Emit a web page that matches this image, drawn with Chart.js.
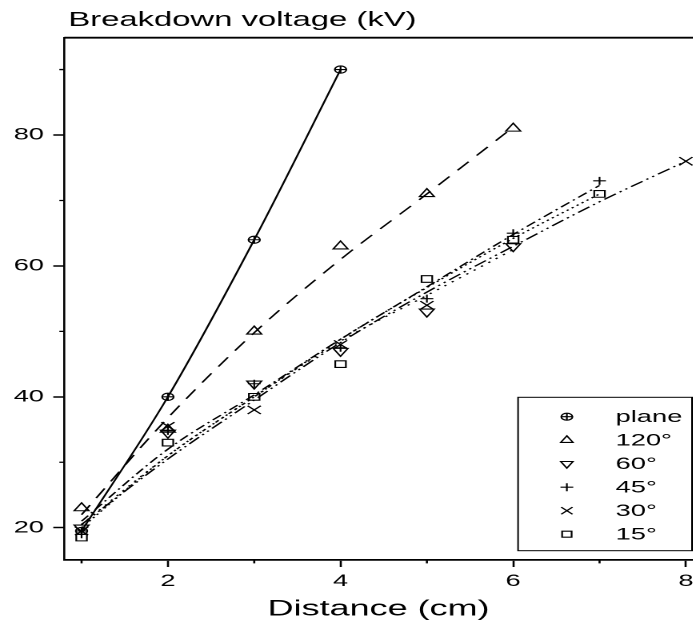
<!DOCTYPE html>
<html>
<head>
<meta charset="utf-8">
<script src="https://cdn.jsdelivr.net/npm/chart.js@4.4.1/dist/chart.umd.min.js"></script>
<style>
html,body{margin:0;padding:0;background:#fff;overflow:hidden}
#wrap{width:693px;height:626px;overflow:hidden;position:relative}
#c{transform:scaleX(1.6);transform-origin:0 0;display:block}
</style>
</head>
<body>
<div id="wrap"><canvas id="c" width="433" height="626"></canvas></div>
<script>
// ---------- data ----------
const seriesNames = ['plane', '120°', '60°', '45°', '30°', '15°'];

const xPlane = [1, 2, 3, 4];
const yPlane = [19.5, 40, 64, 90];
const x120 = [1, 2, 3, 4, 5, 6];
const y120 = [23, 35, 50, 63, 71, 81];
const x60 = [1, 2, 3, 4, 5, 6];
const y60 = [20, 34.5, 42, 47, 53, 63];
const x45 = [1, 2, 3, 4, 5, 6, 7];
const y45 = [19, 34.8, 42, 47.5, 55, 65, 73];
const x30 = [1, 2, 3, 4, 5, 8];
const y30 = [19.5, 35.5, 38, 48, 54, 76];
const x15 = [1, 2, 3, 4, 5, 6, 7];
const y15 = [18.5, 33, 40, 45, 58, 64, 71];

// fitted curves at integer distances
const fitX = [1, 2, 3, 4, 5, 6, 7, 8];
const fitPlane = [19.5, 40, 64, 90];
const fit120 = [22, 36.8, 49.8, 61, 71, 81.2];
const fit60 = [20.5, 31, 40, 48.5, 55.5, 62.5];
const fit45 = [21, 32, 40.3, 48.8, 56.8, 64.8, 72.3];
const fit30 = [20.5, 30.5, 39.5, 48.3, 56, 63, 69.8, 76];
const fit15 = [20, 31, 40, 48.8, 56.7, 64.2, 71];

const xTicks = [1, 2, 3, 4, 5, 6, 7, 8];
const xTickLabels = ['', '2', '', '4', '', '6', '', '8'];
const yTicks = [20, 30, 40, 50, 60, 70, 80, 90];
const yTickLabels = ['20', '', '40', '', '60', '', '80', ''];

const titleText = 'Breakdown voltage (kV)';
const xTitleText = 'Distance (cm)';

// ---------- helpers ----------
const FONT = "'Liberation Sans', Arial, Helvetica, sans-serif";
const pts = (xs, ys) => ys.map((v, i) => ({x: xs[i], y: v}));

function pointSet(label, xs, ys, style, r, rot) {
  return {
    label, data: pts(xs, ys), showLine: false,
    pointStyle: style, pointRadius: r, pointHoverRadius: r,
    pointRotation: rot || 0,
    borderColor: '#000', backgroundColor: 'rgba(0,0,0,0)',
    pointBorderWidth: 1.1, order: 1
  };
}
function lineSet(label, ys, dash) {
  return {
    label, data: pts(fitX, ys), showLine: true,
    pointRadius: 0, pointHoverRadius: 0,
    borderColor: '#000', borderWidth: 1.25, borderDash: dash,
    cubicInterpolationMode: 'monotone', fill: false, order: 2
  };
}

const datasets = [
  lineSet('fit plane', fitPlane, []),
  lineSet('fit 120', fit120, [11, 8]),
  lineSet('fit 60', fit60, [1.5, 4.5]),
  lineSet('fit 45', fit45, [7, 3, 1.5, 3]),
  lineSet('fit 30', fit30, [9, 3, 1.5, 3, 1.5, 3]),
  lineSet('fit 15', fit15, [1.5, 2.5]),
  pointSet(seriesNames[0], xPlane, yPlane, 'circle', 3.6),
  pointSet(seriesNames[0] + '+', xPlane, yPlane, 'cross', 3.6),
  pointSet(seriesNames[1], x120, y120, 'triangle', 5.3),
  pointSet(seriesNames[2], x60, y60, 'triangle', 5.3, 180),
  pointSet(seriesNames[3], x45, y45, 'cross', 4),
  pointSet(seriesNames[4], x30, y30, 'crossRot', 5.8),
  pointSet(seriesNames[5], x15, y15, 'rect', 4.7)
];

const legendMarkers = [
  {style: 'circlePlus', r: 3.5},
  {style: 'triangle', r: 4.4},
  {style: 'triangleDown', r: 4.4},
  {style: 'cross', r: 4},
  {style: 'crossRot', r: 5},
  {style: 'rect', r: 4.2}
];

function drawMarker(ctx, style, x, y, r) {
  ctx.beginPath();
  const s = Math.SQRT1_2 * r;
  if (style === 'circlePlus') {
    ctx.arc(x, y, r, 0, Math.PI * 2);
    ctx.moveTo(x - r, y); ctx.lineTo(x + r, y);
    ctx.moveTo(x, y - r); ctx.lineTo(x, y + r);
  } else if (style === 'triangle' || style === 'triangleDown') {
    const d = style === 'triangle' ? 1 : -1;
    ctx.moveTo(x, y - d * r);
    ctx.lineTo(x + r * Math.cos(Math.PI / 6), y + d * r / 2);
    ctx.lineTo(x - r * Math.cos(Math.PI / 6), y + d * r / 2);
    ctx.closePath();
  } else if (style === 'cross') {
    ctx.moveTo(x - r, y); ctx.lineTo(x + r, y);
    ctx.moveTo(x, y - r); ctx.lineTo(x, y + r);
  } else if (style === 'crossRot') {
    ctx.moveTo(x - s, y - s); ctx.lineTo(x + s, y + s);
    ctx.moveTo(x - s, y + s); ctx.lineTo(x + s, y - s);
  } else if (style === 'rect') {
    ctx.rect(x - s, y - s, 2 * s, 2 * s);
  }
  ctx.stroke();
}

const framePlugin = {
  id: 'frame',
  afterDraw(chart) {
    const ctx = chart.ctx, a = chart.chartArea;
    const xs = chart.scales.x, ys = chart.scales.y;
    ctx.save();
    ctx.strokeStyle = '#000';
    // top frame line
    ctx.lineWidth = 1.8;
    ctx.beginPath();
    ctx.moveTo(a.left, a.top); ctx.lineTo(a.right, a.top);
    ctx.stroke();
    // minor ticks
    ctx.lineWidth = 1.3;
    ctx.beginPath();
    xTicks.forEach((v, i) => {
      if (xTickLabels[i] === '') {
        const p = xs.getPixelForValue(v);
        ctx.moveTo(p, a.bottom); ctx.lineTo(p, a.bottom + 3.4);
      }
    });
    yTicks.forEach((v, i) => {
      if (yTickLabels[i] === '') {
        const p = ys.getPixelForValue(v);
        ctx.moveTo(a.left - 3.1, p); ctx.lineTo(a.left, p);
      }
    });
    ctx.stroke();
    // title
    ctx.fillStyle = '#000';
    ctx.font = '20.5px ' + FONT;
    ctx.textAlign = 'left';
    ctx.textBaseline = 'alphabetic';
    ctx.fillText(titleText, a.left + 2.5, 26);
    // legend
    const bx0 = a.right - 109.2, bx1 = a.right - 0.5;
    const by1 = a.bottom - 9.3, by0 = by1 - 153.4;
    ctx.lineWidth = 1;
    ctx.strokeRect(bx0, by0, bx1 - bx0, by1 - by0);
    ctx.font = '17px ' + FONT;
    ctx.textBaseline = 'middle';
    seriesNames.forEach((name, i) => {
      const yy = by0 + 19.4 + 23.5 * i;
      ctx.lineWidth = 1.1;
      drawMarker(ctx, legendMarkers[i].style, bx0 + 30.5, yy, legendMarkers[i].r);
      ctx.fillText(name, bx0 + 61, yy + 0.5);
    });
    ctx.restore();
  }
};

const majorColor = (labels, ticks) => (c) => {
  const idx = ticks.indexOf(c.tick && c.tick.value);
  return idx >= 0 && labels[idx] !== '' ? '#000' : 'rgba(0,0,0,0)';
};

new Chart(document.getElementById('c'), {
  type: 'scatter',
  data: {datasets},
  options: {
    responsive: false,
    animation: false,
    devicePixelRatio: 2,
    events: [],
    layout: {autoPadding: false, padding: {top: 37.7, left: 0, right: 0, bottom: 0}},
    plugins: {legend: {display: false}, tooltip: {enabled: false}, title: {display: false}},
    scales: {
      x: {
        type: 'linear', min: 0.8, max: 8.08,
        afterBuildTicks: s => { s.ticks = xTicks.map(v => ({value: v})); },
        afterFit: s => { s.height = 66; s.paddingLeft = 0; s.paddingRight = 0; },
        grid: {display: true, drawOnChartArea: false, drawTicks: true, tickLength: 7,
               tickWidth: 1.3, tickColor: majorColor(xTickLabels, xTicks)},
        border: {display: true, color: '#000', width: 1.8},
        ticks: {
          autoSkip: false, maxRotation: 0, minRotation: 0, padding: 4, color: '#000',
          font: {family: FONT, size: 17},
          callback: (v) => { const i = xTicks.indexOf(v); return i >= 0 ? xTickLabels[i] : ''; }
        },
        title: {display: true, text: xTitleText, color: '#000',
                font: {family: FONT, size: 22.5, lineHeight: 1.2}, padding: {top: 0, bottom: 3}}
      },
      y: {
        type: 'linear', min: 15.07, max: 94.87,
        afterBuildTicks: s => { s.ticks = yTicks.map(v => ({value: v})); },
        afterFit: s => { s.width = 40.2; s.paddingTop = 0; s.paddingBottom = 0; },
        grid: {display: true, drawOnChartArea: false, drawTicks: true, tickLength: 6.9,
               tickWidth: 1.5, tickColor: majorColor(yTickLabels, yTicks)},
        border: {display: true, color: '#000', width: 1.3},
        ticks: {
          autoSkip: false, padding: 5.8, color: '#000',
          font: {family: FONT, size: 17},
          callback: (v) => { const i = yTicks.indexOf(v); return i >= 0 ? yTickLabels[i] : ''; }
        }
      }
    }
  },
  plugins: [framePlugin]
});
</script>
</body>
</html>
